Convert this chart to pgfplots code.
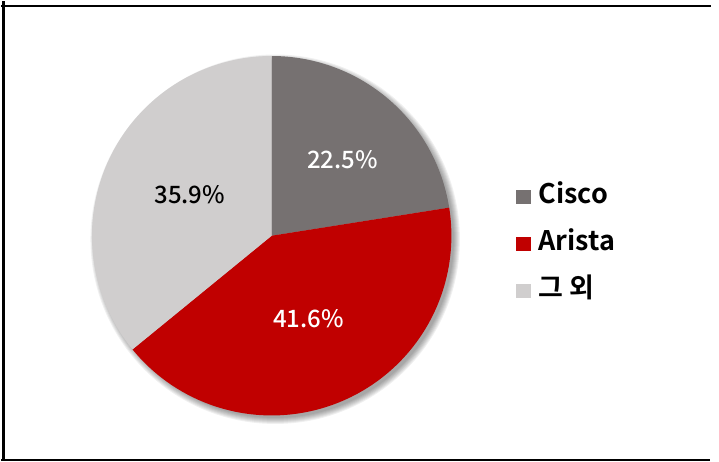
\documentclass[border=0pt]{standalone}
\usepackage{pgfplots}
\pgfplotsset{compat=1.18}
\usepackage{fontspec}
\newfontfamily\kr{Noto Sans CJK KR Medium}
\newfontfamily\krb{Noto Sans CJK KR Bold}
\definecolor{cisco}{HTML}{767171}
\definecolor{arista}{HTML}{C00000}
\definecolor{other}{HTML}{D0CECE}
\begin{document}
\begin{tikzpicture}[x=1pt,y=1pt]
\path (0,0) rectangle (719,461);
% frame
\draw[line width=2.2pt] (0,456) -- (711,456);
\draw[line width=2.2pt] (2.5,461) -- (2.5,1);
\draw[line width=2.2pt] (0,1) -- (710,1);
% soft shadow
\foreach \r in {179,180,...,185}{
  \fill[black,opacity=0.06] (274.5,222.5) circle (\r);
}
\def\pA{22.5}\def\pB{41.6}\def\pC{35.9}
\pgfmathsetmacro\aA{90-3.6*\pA}
\pgfmathsetmacro\aB{\aA-3.6*\pB}
\pgfmathsetmacro\aC{\aB-3.6*\pC}
\begin{axis}[x=1pt,y=1pt,hide axis,anchor=center,at={(271,226)},
  xmin=-180,xmax=180,ymin=-180,ymax=180,clip=false]
\addplot[fill=cisco,draw=none,domain=90:\aA,samples=90,data cs=polar] ({x},{180}) -- (axis cs:0,0) -- cycle;
\addplot[fill=arista,draw=none,domain=\aA:\aB,samples=120,data cs=polar] ({x},{180}) -- (axis cs:0,0) -- cycle;
\addplot[fill=other,draw=none,domain=\aB:\aC,samples=120,data cs=polar] ({x},{180}) -- (axis cs:0,0) -- cycle;
\node[white,font=\kr\fontsize{24}{28}\selectfont] at (axis cs:71,76) {22.5\%};
\node[white,font=\kr\fontsize{24}{28}\selectfont] at (axis cs:37,-83) {41.6\%};
\node[black,font=\kr\fontsize{24}{28}\selectfont] at (axis cs:-82,41) {35.9\%};
\end{axis}
% legend
\fill[cisco] (516,258) rectangle (531,272);
\node[anchor=base west,inner sep=0,font=\krb\fontsize{27}{30}\selectfont] at (538,258) {Cisco};
\fill[arista] (516,211) rectangle (531,225);
\node[anchor=base west,inner sep=0,font=\krb\fontsize{27}{30}\selectfont] at (538,211) {Arista};
\fill[other] (516,164) rectangle (531,178);
\node[anchor=base west,inner sep=0,font=\krb\fontsize{27}{30}\selectfont] at (538,164) {그 외};
\end{tikzpicture}
\end{document}
